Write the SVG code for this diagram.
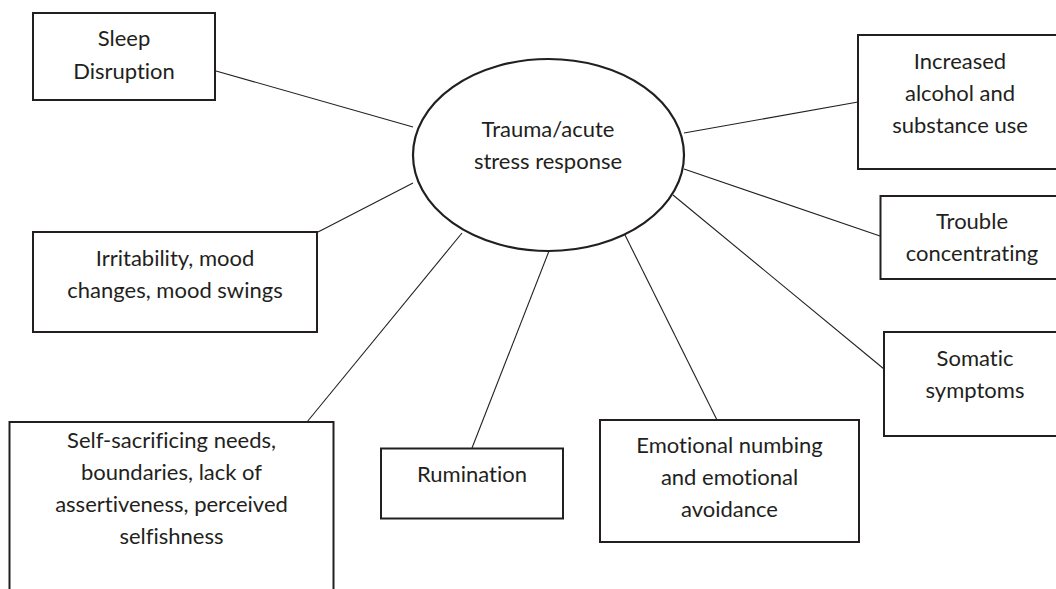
<svg xmlns="http://www.w3.org/2000/svg" width="1056" height="589" viewBox="0 0 1056 589">
<style>
.box{fill:#fff;stroke:#231f20;stroke-width:2}
.ell{fill:#fff;stroke:#231f20;stroke-width:2.2}
.ln{stroke:#231f20;stroke-width:1.1;fill:none}
text{font-family:"Lato","Open Sans",sans-serif;font-size:22px;fill:#231f20;text-anchor:middle;font-variant-ligatures:none}
</style>
<rect width="1056" height="589" fill="#fff"/>
<g id="connectors">
<line class="ln" x1="216" y1="71" x2="413" y2="127"/>
<line class="ln" x1="318" y1="232" x2="413" y2="183"/>
<line class="ln" x1="307" y1="422" x2="462" y2="233"/>
<line class="ln" x1="472" y1="448" x2="549" y2="251"/>
<line class="ln" x1="717" y1="420" x2="625" y2="235"/>
<line class="ln" x1="884" y1="369" x2="673" y2="195"/>
<line class="ln" x1="880" y1="236" x2="684" y2="169"/>
<line class="ln" x1="858" y1="102" x2="684" y2="133"/>
</g>
<g id="center">
<ellipse class="ell" cx="548.5" cy="155" rx="135.5" ry="96"/>
<text x="548" y="137">Trauma/acute</text>
<text x="548" y="169">stress response</text>
</g>
<g id="sleep">
<rect class="box" x="33" y="13" width="182" height="87"/>
<text x="124" y="46">Sleep</text>
<text x="124" y="79">Disruption</text>
</g>
<g id="irritability">
<rect class="box" x="33" y="232" width="284" height="100"/>
<text x="175" y="266">Irritability, mood</text>
<text x="175" y="298">changes, mood swings</text>
</g>
<g id="selfsacrificing">
<rect class="box" x="9.5" y="422" width="324" height="190"/>
<text x="171.5" y="448">Self-sacrificing needs,</text>
<text x="171.5" y="480">boundaries, lack of</text>
<text x="171.5" y="512">assertiveness, perceived</text>
<text x="171.5" y="544">selfishness</text>
</g>
<g id="rumination">
<rect class="box" x="381" y="448.5" width="182" height="70"/>
<text x="472" y="482">Rumination</text>
</g>
<g id="emotional">
<rect class="box" x="600" y="420" width="259" height="122"/>
<text x="729.5" y="453">Emotional numbing</text>
<text x="729.5" y="485">and emotional</text>
<text x="729.5" y="517">avoidance</text>
</g>
<g id="alcohol">
<rect class="box" x="858" y="35" width="210" height="134"/>
<text x="960" y="69">Increased</text>
<text x="960" y="101">alcohol and</text>
<text x="960" y="133">substance use</text>
</g>
<g id="trouble">
<rect class="box" x="880.5" y="196" width="190" height="83"/>
<text x="972" y="229">Trouble</text>
<text x="972" y="261">concentrating</text>
</g>
<g id="somatic">
<rect class="box" x="884" y="332" width="190" height="104"/>
<text x="975" y="366">Somatic</text>
<text x="975" y="398">symptoms</text>
</g>
</svg>
